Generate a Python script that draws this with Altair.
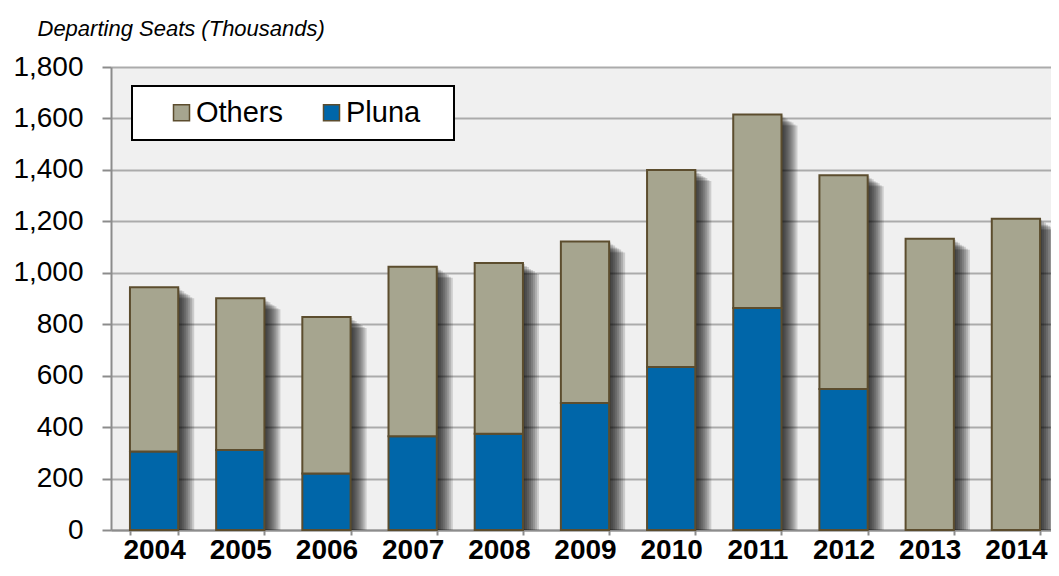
import altair as alt
import pandas as pd

years = ["2004", "2005", "2006", "2007", "2008", "2009", "2010", "2011", "2012", "2013", "2014"]
pluna = [305, 311, 220, 364, 374, 494, 634, 863, 548, 0, 0]
others = [639, 590, 608, 659, 664, 628, 766, 752, 831, 1132, 1210]
series_names = ["Others", "Pluna"]
series_colors = ["#a6a58f", "#0066a9"]
y_ticks = [0, 200, 400, 600, 800, 1000, 1200, 1400, 1600, 1800]

rows = []
for yr, p, o in zip(years, pluna, others):
    if p > 0:
        rows.append({"year": yr, "series": "Pluna", "value": p, "ord": 0})
    rows.append({"year": yr, "series": "Others", "value": o, "ord": 1})
df = pd.DataFrame(rows)
tot = pd.DataFrame({"year": years, "total": [p + o for p, o in zip(pluna, others)]})

FONT = "Liberation Sans"
AXIS_GRAY = "#8c8c8c"

xscale = alt.Scale(domain=years, range=[0, 948], paddingInner=0.44, paddingOuter=0.22)
yscale = alt.Scale(domain=[0, 1800], nice=False)

xaxis = alt.Axis(title=None, labelAngle=0, labelFont=FONT, labelFontSize=28,
                 labelFontWeight="bold", labelColor="black", labelPadding=1,
                 tickBand="extent", tickSize=5, tickColor=AXIS_GRAY, tickWidth=2,
                 domainColor=AXIS_GRAY, domainWidth=2, grid=False)
yaxis = alt.Axis(values=y_ticks, format=",d", labelFont=FONT, labelFontSize=28,
                 labelColor="black", labelPadding=19, labelFlush=False, labelOverlap=False,
                 tickSize=9, tickColor=AXIS_GRAY, tickWidth=2,
                 domainColor=AXIS_GRAY, domainWidth=2,
                 grid=True, gridColor="#ababab", gridWidth=2,
                 title="Departing Seats (Thousands)", titleAngle=0, titleAlign="left",
                 titleBaseline="alphabetic", titleX=-74, titleY=-32, titleFont=FONT,
                 titleFontSize=22, titleFontStyle="italic", titleFontWeight="normal",
                 titleColor="black")

layers = []
for k in [2, 4, 6, 8, 10, 12, 14, 16]:
    layers.append(
        alt.Chart(tot).mark_bar(color="black", opacity=0.15, xOffset=k,
                                yOffset=round(k * 0.7), clip=True).encode(
            x=alt.X("year:N", scale=xscale, axis=xaxis),
            y=alt.Y("total:Q", scale=yscale, axis=yaxis),
        )
    )

bars = alt.Chart(df).mark_bar(stroke="#5c4d2e", strokeWidth=2).encode(
    x=alt.X("year:N", scale=xscale, axis=xaxis),
    y=alt.Y("value:Q", stack="zero", scale=yscale, axis=yaxis),
    color=alt.Color("series:N",
                    scale=alt.Scale(domain=series_names, range=series_colors),
                    legend=alt.Legend(title=" ", titleOrient="left", titleFontSize=1,
                                      titlePadding=23, orient="none", legendX=21, legendY=19,
                                      direction="horizontal", fillColor="white",
                                      strokeColor="black", padding=12, symbolType="square",
                                      symbolSize=256, symbolStrokeColor="#5c4d2e",
                                      symbolStrokeWidth=1.5, symbolOpacity=1,
                                      labelFont=FONT, labelFontSize=29, labelColor="black",
                                      labelOffset=0, columnPadding=12,
                                      labelExpr="datum.label + '\u2800'")),
    order=alt.Order("ord:Q"),
)
layers.append(bars)

chart = alt.layer(*layers).properties(
    width=940, height=463,
    autosize=alt.AutoSizeParams(type="none"),
    padding={"left": 103, "top": 59, "right": 0, "bottom": 38},
    background="white",
).configure_view(fill="#f0f0f0", strokeWidth=0).configure_legend(strokeWidth=2)

chart.save("out.html", embed_options={"renderer": "svg", "actions": False})
